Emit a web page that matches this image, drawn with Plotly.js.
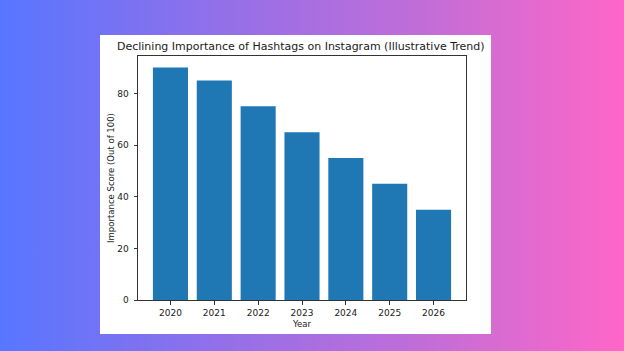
<!DOCTYPE html>
<html><head><meta charset="utf-8">
<script src="https://cdn.plot.ly/plotly-3.0.1.min.js"></script>
<style>
html,body{margin:0;padding:0;width:624px;height:351px;overflow:hidden;
background:linear-gradient(90deg,#5776ff 0%,#9a6fe6 40%,#c56dd6 70%,#ff66c8 100%);}
#box{position:absolute;left:100px;top:35px;width:391px;height:299px;background:#fff;}
#chart{position:absolute;left:0;top:0;width:624px;height:351px;}
</style></head><body>
<div id="box"></div>
<div id="chart"></div>
<script>
const years = ['2020','2021','2022','2023','2024','2025','2026'];
const scores = [90, 85, 75, 65, 55, 45, 35];
const yTicks = [0, 20, 40, 60, 80];

Plotly.newPlot('chart', [{
  type: 'bar',
  x: years.map((_, i) => i),
  y: scores,
  width: 0.8,
  marker: {color: '#1f77b4'},
  hoverinfo: 'none'
}], {
  width: 624, height: 351,
  paper_bgcolor: 'rgba(0,0,0,0)',
  plot_bgcolor: '#fff',
  margin: {l: 138, r: 158, t: 56, b: 51},
  font: {family: 'DejaVu Sans', color: '#1a1a1a', size: 9},
  title: {text: 'Declining Importance of Hashtags on Instagram (Illustrative Trend)',
          font: {size: 11, color: '#1a1a1a'}, x: 0.482, xanchor: 'center', y: 0.868, yanchor: 'middle'},
  xaxis: {
    range: [-0.74, 6.74], tickmode: 'array', tickvals: years.map((_, i) => i), ticktext: years,
    showgrid: false, zeroline: false, showline: true, mirror: true, linecolor: '#333', linewidth: 1,
    ticks: 'outside', ticklen: 3.5, tickcolor: '#333', ticklabelstandoff: 1,
    title: {text: 'Year', font: {size: 8.5}, standoff: 3}
  },
  yaxis: {
    range: [0, 94.5], tickmode: 'array', tickvals: yTicks,
    showgrid: false, zeroline: false, showline: true, mirror: true, linecolor: '#333', linewidth: 1,
    ticks: 'outside', ticklen: 3.5, tickcolor: '#333', ticklabelstandoff: 3,
    title: {text: 'Importance Score (Out of 100)', font: {size: 8.5}, standoff: 1}
  },
  showlegend: false
}, {staticPlot: true});
</script>
</body></html>
